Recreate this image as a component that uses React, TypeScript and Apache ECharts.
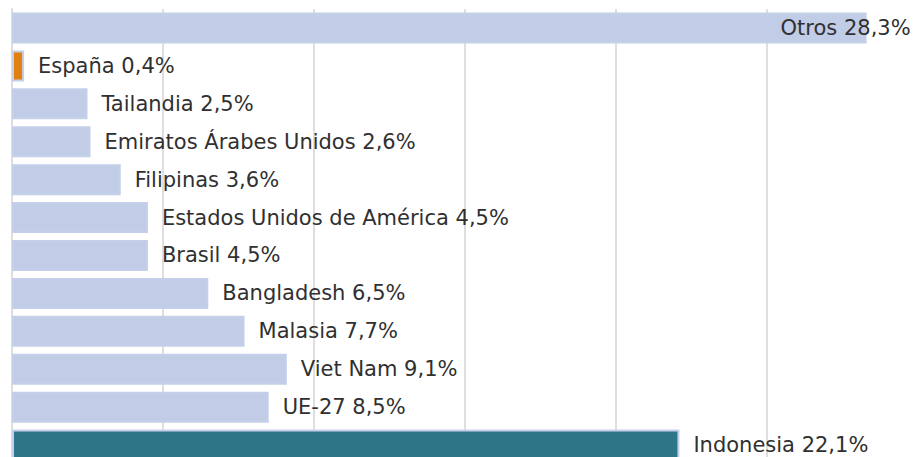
import React, { useEffect, useRef } from "react";
import * as echarts from "echarts";

const categories = [
  "Otros",
  "España",
  "Tailandia",
  "Emiratos Árabes Unidos",
  "Filipinas",
  "Estados Unidos de América",
  "Brasil",
  "Bangladesh",
  "Malasia",
  "Viet Nam",
  "UE-27",
  "Indonesia",
];
const values = [28.3, 0.4, 2.5, 2.6, 3.6, 4.5, 4.5, 6.5, 7.7, 9.1, 8.5, 22.1];
const barColors = [
  "#c1cce6", "#e0800f", "#c1cce6", "#c1cce6", "#c1cce6", "#c1cce6",
  "#c1cce6", "#c1cce6", "#c1cce6", "#c1cce6", "#c1cce6", "#2e7587",
];

const fmt = (v: number) => v.toFixed(1).replace(".", ",") + "%";

export default function App() {
  const ref = useRef<HTMLDivElement>(null);
  useEffect(() => {
    if (!ref.current) return;
    const chart = echarts.init(ref.current, undefined, { renderer: "svg" });
    const font = "DejaVu Sans";
    chart.setOption({
      animation: false,
      backgroundColor: "#ffffff",
      grid: {
        left: 12,
        top: 9,
        width: 906,
        height: 455,
        outerBoundsMode: "none",
        containLabel: false,
      },
      xAxis: {
        type: "value",
        min: 0,
        max: 30,
        interval: 5,
        axisLabel: { show: false },
        axisLine: { show: false },
        axisTick: { show: false },
        splitLine: { show: true, lineStyle: { color: "#dedede", width: 2 } },
      },
      yAxis: {
        type: "category",
        inverse: true,
        data: categories,
        axisLabel: { show: false },
        axisTick: { show: false },
        axisLine: { show: true, lineStyle: { color: "#dedede", width: 2 } },
      },
      series: [
        {
          type: "bar",
          barWidth: 31,
          data: values.map((v, i) => ({
            value: v,
            itemStyle: {
              color: barColors[i],
              borderColor: "#c5cfe9",
              borderWidth: 2,
            },
            label:
              i === 0
                ? { position: "insideRight", distance: 0, offset: [44, 0] }
                : undefined,
          })),
          label: {
            show: true,
            position: "right",
            distance: 14,
            fontFamily: font,
            fontSize: 21,
            color: "#303030",
            formatter: (p: any) => `${categories[p.dataIndex]} ${fmt(p.value)}`,
          },
        },
      ],
    });
    return () => chart.dispose();
  }, []);
  return (
    <div
      ref={ref}
      style={{ position: "fixed", left: 0, top: 0, width: 914, height: 457 }}
    />
  );
}
